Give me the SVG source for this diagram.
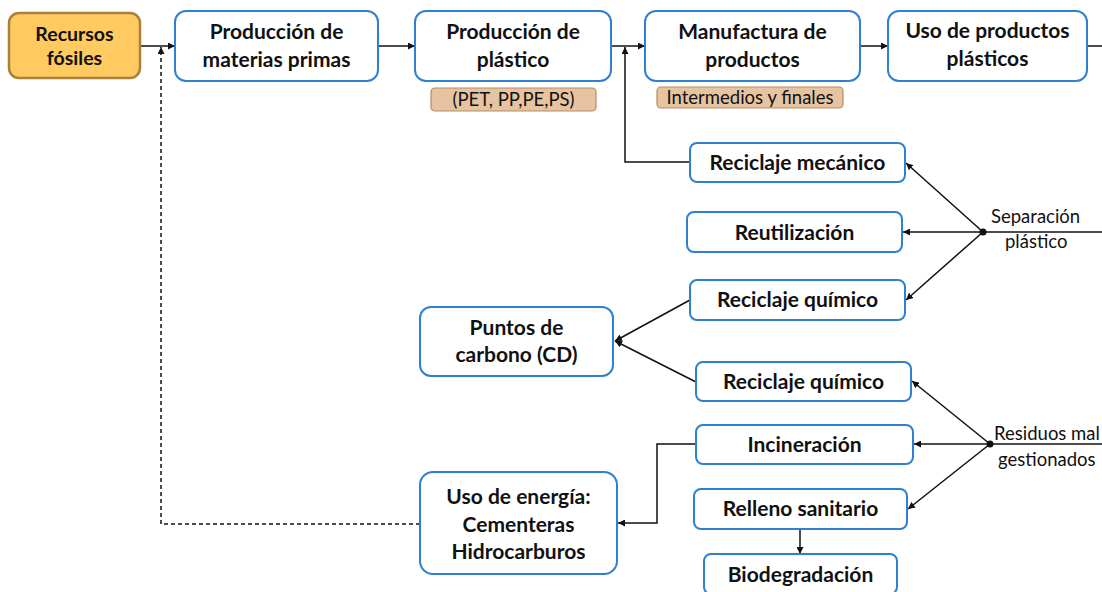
<svg xmlns="http://www.w3.org/2000/svg" width="1102" height="592" viewBox="0 0 1102 592">
<style>
.n{fill:#fff;stroke:#2F80CF;stroke-width:2}
.src{fill:#FFCA5F;stroke:#A9803C;stroke-width:2.5}
.lab{fill:#E7C4A1;stroke:#B68B60;stroke-width:1.2}
.t{font-family:Lato,"Open Sans",sans-serif;font-weight:bold;font-size:21px;fill:#111;text-anchor:middle}
.s{font-family:Lato,"Open Sans",sans-serif;font-size:18.5px;fill:#111}
.c{fill:none;stroke:#111;stroke-width:1.5}
.d{fill:none;stroke:#111;stroke-width:1.5;stroke-dasharray:4 3}
</style>
<defs>
<marker id="a" viewBox="0 0 10 10" refX="10" refY="5" markerWidth="7" markerHeight="7" markerUnits="userSpaceOnUse" orient="auto"><path d="M0,0L10,5L0,10z" fill="#111"/></marker>
</defs>
<rect width="1102" height="592" fill="#fff"/>
<g id="connectors">
<path class="c" d="M141,46H175" marker-end="url(#a)"/>
<path class="c" d="M379,46H415" marker-end="url(#a)"/>
<path class="c" d="M612,46H645" marker-end="url(#a)"/>
<path class="c" d="M861,46H888" marker-end="url(#a)"/>
<path class="c" d="M1088,46H1102"/>
<path class="c" d="M690,162H625V47" marker-end="url(#a)"/>
<path class="d" d="M420,524H161V47" marker-end="url(#a)"/>
<path class="c" d="M1102,232H983"/>
<circle cx="983" cy="232" r="3.5" fill="#111"/>
<path class="c" d="M983,232L906,163" marker-end="url(#a)"/>
<path class="c" d="M983,232H903" marker-end="url(#a)"/>
<path class="c" d="M983,232L906,300" marker-end="url(#a)"/>
<path class="c" d="M690,300L615,341" marker-end="url(#a)"/>
<path class="c" d="M696,382L615,341" marker-end="url(#a)"/>
<path class="c" d="M1102,444H990"/>
<circle cx="990" cy="444" r="3.5" fill="#111"/>
<path class="c" d="M990,444L912,381" marker-end="url(#a)"/>
<path class="c" d="M990,444H914" marker-end="url(#a)"/>
<path class="c" d="M990,444L908,509" marker-end="url(#a)"/>
<path class="c" d="M696,444H657V523H618" marker-end="url(#a)"/>
<path class="c" d="M800,530V554" marker-end="url(#a)"/>
</g>
<g id="recursos"><rect class="src" x="9" y="13" width="131" height="65" rx="10"/><text class="t" x="74.5" y="41" style="font-size:19.5px">Recursos</text><text class="t" x="74.5" y="65" style="font-size:19.5px">fósiles</text></g>
<g id="materias"><rect class="n" x="175" y="11" width="203" height="70" rx="11"/><text class="t" x="276.5" y="39">Producción de</text><text class="t" x="276.5" y="67">materias primas</text></g>
<g id="plastico"><rect class="n" x="415" y="11" width="196" height="70" rx="11"/><text class="t" x="513" y="39">Producción de</text><text class="t" x="513" y="67">plástico</text></g>
<g id="lab1"><rect class="lab" x="431" y="88" width="165" height="23" rx="4"/><text class="s" x="513.5" y="106" text-anchor="middle">(PET, PP,PE,PS)</text></g>
<g id="manufactura"><rect class="n" x="645" y="11" width="215" height="70" rx="11"/><text class="t" x="752.5" y="39">Manufactura de</text><text class="t" x="752.5" y="67">productos</text></g>
<g id="lab2"><rect class="lab" x="657" y="87" width="186" height="21" rx="4"/><text class="s" x="750" y="104" text-anchor="middle">Intermedios y finales</text></g>
<g id="uso"><rect class="n" x="888" y="11" width="199" height="70" rx="11"/><text class="t" x="987.5" y="38">Uso de productos</text><text class="t" x="987.5" y="66">plásticos</text></g>
<g id="mecanico"><rect class="n" x="690" y="143" width="215" height="39" rx="7"/><text class="t" x="797.5" y="170">Reciclaje mecánico</text></g>
<g id="reutilizacion"><rect class="n" x="687" y="212" width="215" height="40" rx="7"/><text class="t" x="794.5" y="240">Reutilización</text></g>
<g id="quimico1"><rect class="n" x="690" y="280" width="215" height="40" rx="7"/><text class="t" x="797.5" y="307">Reciclaje químico</text></g>
<g id="separacion"><text class="s" x="991" y="223">Separación</text><text class="s" x="1005" y="248">plástico</text></g>
<g id="puntos"><rect class="n" x="420" y="307" width="193" height="69" rx="11"/><text class="t" x="516.5" y="335">Puntos de</text><text class="t" x="516.5" y="362">carbono (CD)</text></g>
<g id="quimico2"><rect class="n" x="696" y="362" width="215" height="39" rx="7"/><text class="t" x="803.5" y="389">Reciclaje químico</text></g>
<g id="incineracion"><rect class="n" x="696" y="425" width="217" height="39" rx="7"/><text class="t" x="804.5" y="452">Incineración</text></g>
<g id="residuos"><text class="s" x="994" y="440">Residuos mal</text><text class="s" x="998" y="466">gestionados</text></g>
<g id="relleno"><rect class="n" x="694" y="489" width="213" height="40" rx="7"/><text class="t" x="800.5" y="516">Relleno sanitario</text></g>
<g id="biodegradacion"><rect class="n" x="704" y="554" width="193" height="40" rx="7"/><text class="t" x="800.5" y="582">Biodegradación</text></g>
<g id="energia"><rect class="n" x="420" y="472" width="197" height="102" rx="13"/><text class="t" x="518.5" y="504">Uso de energía:</text><text class="t" x="518.5" y="532">Cementeras</text><text class="t" x="518.5" y="559">Hidrocarburos</text></g>
</svg>
